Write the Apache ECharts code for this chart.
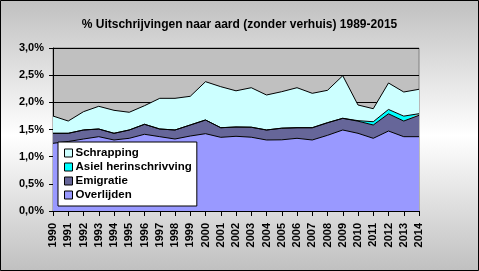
<!DOCTYPE html>
<html>
<head>
<meta charset="utf-8">
<script src="https://cdn.jsdelivr.net/npm/echarts@6/dist/echarts.min.js"></script>
<style>
html,body{margin:0;padding:0;background:#fff;}
#c{width:479px;height:271px;}
</style>
</head>
<body>
<div id="c"></div>
<script>
const years = ['1990','1991','1992','1993','1994','1995','1996','1997','1998','1999','2000','2001','2002','2003','2004','2005','2006','2007','2008','2009','2010','2011','2012','2013','2014'];
const overlijden = [1.246,1.279,1.325,1.368,1.307,1.338,1.412,1.368,1.325,1.380,1.423,1.356,1.375,1.358,1.307,1.310,1.338,1.307,1.393,1.491,1.430,1.338,1.472,1.368,1.368];
const emigratie = [0.184,0.151,0.166,0.141,0.123,0.153,0.184,0.141,0.166,0.203,0.252,0.177,0.171,0.184,0.184,0.214,0.195,0.226,0.232,0.215,0.223,0.245,0.317,0.288,0.393];
const asiel = [0,0,0,0,0,0,0,0,0,0,0,0,0,0,0,0,0,0,0,0,0.01,0.06,0.08,0.09,0.03];
const schrapping = [0.318,0.226,0.337,0.418,0.423,0.326,0.342,0.565,0.583,0.528,0.705,0.755,0.666,0.727,0.644,0.672,0.736,0.633,0.596,0.784,0.288,0.240,0.487,0.444,0.449];
const yTicks = {min:0, max:3, interval:0.5};
const titleText = '% Uitschrijvingen naar aard (zonder verhuis) 1989-2015';
const names = ['Overlijden','Emigratie','Asiel herinschrivving','Schrapping'];
const colors = ['#9999FF','#666699','#00FFFF','#CCFFFF'];

const FONT = '"Liberation Sans", Arial, sans-serif';
const chart = echarts.init(document.getElementById('c'), null, {renderer:'canvas'});

function areaSeries(name, data, color) {
  return {
    name: name, type: 'line', stack: 'total', data: data,
    symbol: 'none', showSymbol: false,
    lineStyle: {color: '#000', width: 1},
    areaStyle: {color: color, opacity: 1},
    itemStyle: {color: color, borderColor: '#000', borderWidth: 1},
    emphasis: {disabled: true},
    animation: false
  };
}

chart.setOption({
  animation: false,
  backgroundColor: {type:'linear', x:0, y:0, x2:0, y2:1, colorStops:[
    {offset:0, color:'#c0c0c0'}, {offset:0.5, color:'#ffffff'}, {offset:1, color:'#c0c0c0'}]},
  title: {
    text: titleText, left: 'center', top: 14,
    textStyle: {fontFamily: FONT, fontSize: 12, fontWeight: 'bold', color: '#000'}
  },
  legend: {
    data: names.slice().reverse(),
    orient: 'vertical', left: 58, top: 142,
    backgroundColor: '#fff', borderColor: '#000', borderWidth: 1,
    padding: [5, 5, 5, 6],
    itemWidth: 8, itemHeight: 8, itemGap: 2,
    icon: 'rect',
    itemStyle: {borderColor: '#000', borderWidth: 1},
    textStyle: {fontFamily: FONT, fontSize: 11.5, fontWeight: 'bold', color: '#000', padding: [0,0,0,-2]},
    selectedMode: false
  },
  grid: {
    left: 53, right: 60, top: 48, bottom: 60,
    show: true, backgroundColor: '#c0c0c0', borderColor: '#808080', borderWidth: 1
  },
  xAxis: {
    type: 'category', data: years, boundaryGap: false,
    axisLine: {lineStyle: {color: '#000', width: 1}},
    axisTick: {show: true, length: 5, interval: 0, lineStyle: {color: '#000'}},
    axisLabel: {interval: 0, rotate: 90, margin: 12, fontFamily: FONT, fontSize: 11, fontWeight: 'bold', color: '#000'},
    splitLine: {show: false}
  },
  yAxis: {
    type: 'value', min: yTicks.min, max: yTicks.max, interval: yTicks.interval,
    axisLine: {show: true, lineStyle: {color: '#000', width: 1}},
    axisTick: {show: true, length: 4, lineStyle: {color: '#000'}},
    axisLabel: {margin: 9, fontFamily: FONT, fontSize: 11, fontWeight: 'bold', color: '#000',
      formatter: v => v.toFixed(1).replace('.', ',') + '%'},
    splitLine: {show: true, lineStyle: {color: '#000', width: 1}}
  },
  series: [
    areaSeries(names[0], overlijden, colors[0]),
    areaSeries(names[1], emigratie, colors[1]),
    areaSeries(names[2], asiel, colors[2]),
    areaSeries(names[3], schrapping, colors[3])
  ],
  graphic: [{
    type: 'rect', silent: true, z: 100,
    shape: {x: 0.5, y: 0.5, width: 478, height: 270},
    style: {fill: 'none', stroke: '#000', lineWidth: 1}
  }]
});
</script>
</body>
</html>
